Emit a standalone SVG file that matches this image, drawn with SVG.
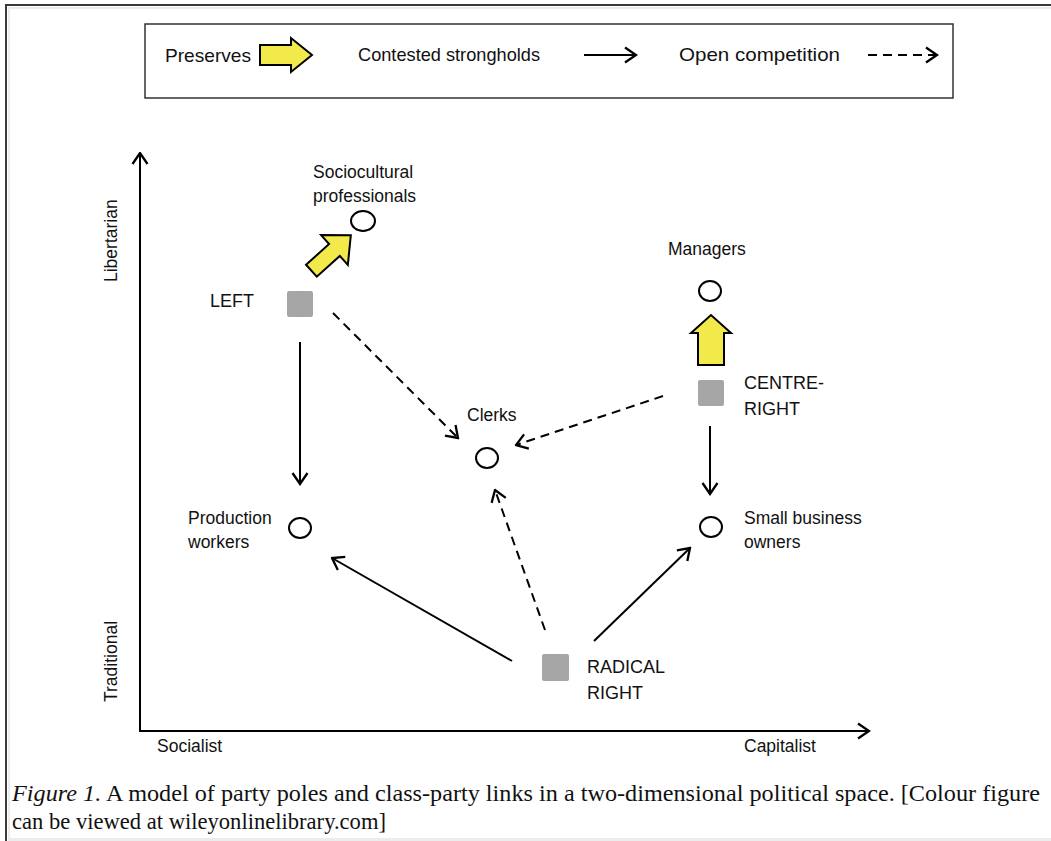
<svg xmlns="http://www.w3.org/2000/svg" width="1051" height="841" viewBox="0 0 1051 841">
<defs>
<style>
.t{font-family:"Liberation Sans",Arial,sans-serif;font-size:17.5px;fill:#111}
.big{font-size:18px}
.lg{font-size:19px}
.cap{font-family:"Liberation Serif","Times New Roman",serif;font-size:22.5px;fill:#111}
.ln{stroke:#000;stroke-width:2;fill:none}
.dash{stroke:#000;stroke-width:2;fill:none;stroke-dasharray:9 6}
.yel{fill:#f2ea4a;stroke:#000;stroke-width:2;stroke-linejoin:miter}
.circ{fill:#fff;stroke:#000;stroke-width:2}
.sq{fill:#a6a6a6}
</style>
<marker id="ah" viewBox="0 0 14 18" refX="12.5" refY="9" markerWidth="14" markerHeight="18" markerUnits="userSpaceOnUse" orient="auto">
<path d="M1.5,1.5 L12.5,9 L1.5,16.5" fill="none" stroke="#000" stroke-width="2.3"/>
</marker>
</defs>
<rect width="1051" height="841" fill="#fff"/>
<!-- frame -->
<rect x="5" y="4" width="1046" height="2" fill="#3a3a3a"/>
<rect x="5" y="4" width="2" height="837" fill="#3a3a3a"/>
<rect x="8" y="7" width="1043" height="2" fill="#ececec"/>
<rect x="8" y="7" width="2" height="834" fill="#ececec"/>
<rect x="8" y="838" width="1043" height="3" fill="#ececec"/>

<!-- legend -->
<g id="legend">
<rect x="145" y="24" width="808" height="74" fill="#fff" stroke="#333" stroke-width="1.5"/>
<text class="t lg" x="165" y="62" textLength="86" lengthAdjust="spacingAndGlyphs">Preserves</text>
<path class="yel" d="M260,45 L291,45 L291,38 L312,55 L291,72 L291,65 L260,65 Z"/>
<text class="t lg" x="358" y="61" textLength="182" lengthAdjust="spacingAndGlyphs">Contested strongholds</text>
<line class="ln" x1="584" y1="55" x2="636" y2="55" marker-end="url(#ah)"/>
<text class="t lg" x="679" y="61" textLength="161" lengthAdjust="spacingAndGlyphs">Open competition</text>
<line class="dash" x1="868" y1="55" x2="937" y2="55" marker-end="url(#ah)" stroke-dasharray="8 6"/>
</g>

<!-- axes -->
<g id="axes">
<line class="ln" x1="140" y1="731" x2="140" y2="153" marker-end="url(#ah)"/>
<line class="ln" x1="139" y1="731" x2="869" y2="731" marker-end="url(#ah)"/>
<text class="t" transform="translate(117,282) rotate(-90)">Libertarian</text>
<text class="t" transform="translate(117,702) rotate(-90)">Traditional</text>
<text class="t" x="157" y="752">Socialist</text>
<text class="t" x="744" y="752">Capitalist</text>
</g>

<!-- connectors -->
<g id="connectors">
<line class="ln" x1="300" y1="342" x2="300" y2="484" marker-end="url(#ah)"/>
<line class="dash" x1="333" y1="313" x2="458" y2="438" marker-end="url(#ah)"/>
<line class="dash" x1="663" y1="396" x2="516" y2="445" marker-end="url(#ah)"/>
<line class="ln" x1="710" y1="426" x2="710" y2="494" marker-end="url(#ah)"/>
<line class="ln" x1="512" y1="661" x2="332" y2="558" marker-end="url(#ah)"/>
<line class="dash" x1="545" y1="630" x2="495" y2="490" marker-end="url(#ah)"/>
<line class="ln" x1="594" y1="641" x2="690" y2="548" marker-end="url(#ah)"/>
<!-- preserves arrows -->
<path class="yel" transform="translate(330,254) rotate(-42)" d="M-25,-8 L6,-8 L6,-20 L28,0 L6,20 L6,8 L-25,8 Z"/>
<path class="yel" d="M698,365 L698,333 L691,333 L711,315 L731,333 L724,333 L724,365 Z"/>
</g>

<!-- nodes -->
<g id="sociocultural">
<ellipse class="circ" cx="363" cy="221" rx="12" ry="10"/>
<text class="t" x="313" y="178">Sociocultural</text>
<text class="t" x="313" y="202">professionals</text>
</g>
<g id="left">
<rect class="sq" x="287" y="291" width="26" height="26" rx="2"/>
<text class="t big" x="210" y="307">LEFT</text>
</g>
<g id="managers">
<ellipse class="circ" cx="710" cy="291" rx="11" ry="10"/>
<text class="t" x="668" y="255">Managers</text>
</g>
<g id="centre-right">
<rect class="sq" x="698" y="380" width="26" height="26" rx="2"/>
<text class="t big" x="744" y="389">CENTRE-</text>
<text class="t big" x="744" y="415">RIGHT</text>
</g>
<g id="clerks">
<ellipse class="circ" cx="487" cy="458" rx="11" ry="10"/>
<text class="t" x="467" y="421">Clerks</text>
</g>
<g id="production">
<ellipse class="circ" cx="300" cy="528" rx="11" ry="10"/>
<text class="t" x="188" y="524">Production</text>
<text class="t" x="188" y="548">workers</text>
</g>
<g id="smallbusiness">
<ellipse class="circ" cx="711" cy="527" rx="11" ry="10"/>
<text class="t" x="744" y="524">Small business</text>
<text class="t" x="744" y="548">owners</text>
</g>
<g id="radical-right">
<rect class="sq" x="542" y="654" width="27" height="27" rx="2"/>
<text class="t big" x="587" y="673">RADICAL</text>
<text class="t big" x="587" y="699">RIGHT</text>
</g>

<!-- caption -->
<text class="cap" x="12" y="801" textLength="1028" lengthAdjust="spacingAndGlyphs"><tspan font-style="italic">Figure 1.</tspan>  A model of party poles and class-party links in a two-dimensional political space. [Colour figure</text>
<text class="cap" x="12" y="829" textLength="374" lengthAdjust="spacingAndGlyphs">can be viewed at wileyonlinelibrary.com]</text>
</svg>
